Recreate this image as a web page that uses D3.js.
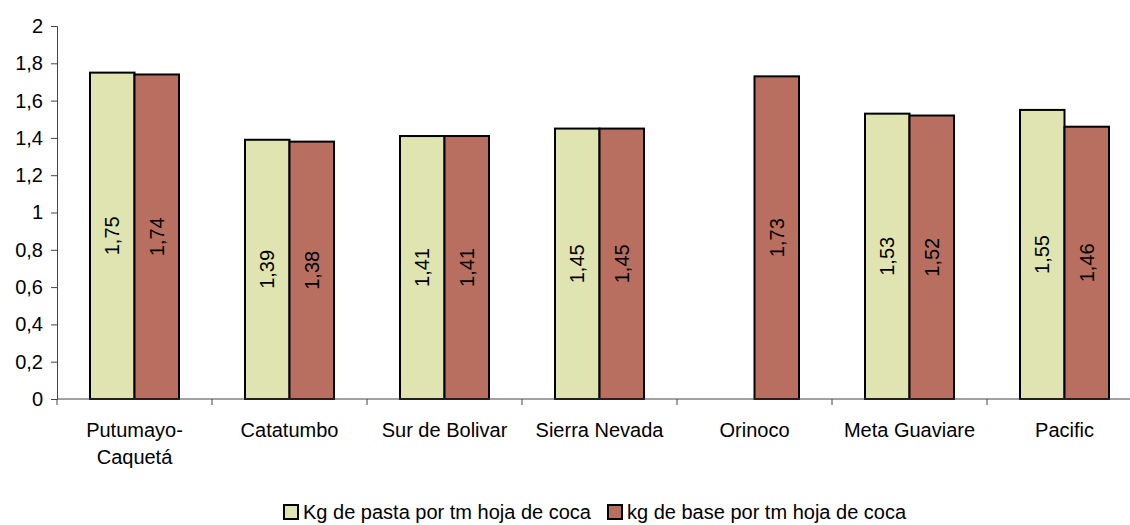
<!DOCTYPE html>
<html>
<head>
<meta charset="utf-8">
<script src="https://cdn.jsdelivr.net/npm/d3@7"></script>
<style>
  html, body { margin: 0; padding: 0; background: #fff; }
  svg { display: block; font-family: "Liberation Sans", Arial, sans-serif; }
</style>
</head>
<body>
<svg id="chart" width="1130" height="525"></svg>
<script>
// Yield per region: kg of product per tonne of coca leaf
const regions = ["Putumayo-\nCaquetá", "Catatumbo", "Sur de Bolivar", "Sierra Nevada", "Orinoco", "Meta Guaviare", "Pacific"];
const pastaValues = [1.75, 1.39, 1.41, 1.45, null, 1.53, 1.55];
const baseValues = [1.74, 1.38, 1.41, 1.45, 1.73, 1.52, 1.46];
const seriesNames = ["Kg de pasta por tm hoja de coca", "kg de base por tm hoja de coca"];
const seriesColors = ["#dfe4b0", "#b86f60"];
const yTicks = [0, 0.2, 0.4, 0.6, 0.8, 1, 1.2, 1.4, 1.6, 1.8, 2];

(function draw() {
  const svg = d3.select("#chart");
  const fmt = v => String(v).replace(".", ",");
  const fontSize = 20;

  const plotLeft = 57, plotRight = 1142, plotTop = 26, plotBottom = 399;

  const x = d3.scaleBand().domain(regions).range([plotLeft, plotRight]).paddingInner(0).paddingOuter(0);
  const groupW = 89;
  const xSub = d3.scaleBand().domain([0, 1]).range([0, groupW]);
  const y = d3.scaleLinear().domain([0, 2]).range([plotBottom, plotTop]);

  // y axis
  const yAxis = svg.append("g")
    .attr("transform", `translate(${plotLeft},0)`)
    .call(d3.axisLeft(y).tickValues(yTicks).tickSize(6).tickPadding(8).tickFormat(fmt));
  yAxis.selectAll("text").attr("font-size", fontSize).attr("fill", "#000").attr("font-family", "Liberation Sans, Arial, sans-serif");
  yAxis.selectAll("line, path").attr("stroke", "#444").attr("stroke-width", 1);

  // bars
  const rows = regions.map((r, i) => ({ region: r, vals: [pastaValues[i], baseValues[i]] }));
  const groups = svg.append("g").selectAll("g").data(rows).join("g")
    .attr("transform", d => `translate(${x(d.region) + (x.bandwidth() - groupW) / 2},0)`);

  const cells = groups.selectAll("g").data(d => d.vals.map((v, k) => ({ v, k })).filter(e => e.v != null)).join("g");
  cells.append("rect")
    .attr("x", e => xSub(e.k))
    .attr("width", xSub.bandwidth())
    .attr("y", e => y(e.v))
    .attr("height", e => y(0) - y(e.v))
    .attr("fill", e => seriesColors[e.k])
    .attr("stroke", "#000")
    .attr("stroke-width", 2);
  cells.append("text")
    .attr("transform", e => `translate(${xSub(e.k) + xSub.bandwidth() / 2},${(y(e.v) + y(0)) / 2}) rotate(-90)`)
    .attr("text-anchor", "middle")
    .attr("dy", "0.35em")
    .attr("font-size", fontSize)
    .attr("fill", "#000")
    .text(e => fmt(e.v));

  // x axis
  const xAxis = svg.append("g")
    .attr("transform", `translate(0,${plotBottom})`);
  xAxis.append("line").attr("x1", plotLeft).attr("x2", plotRight).attr("stroke", "#444");
  const edges = d3.range(regions.length + 1).map(i => plotLeft + i * x.step());
  xAxis.selectAll("line.tick").data(edges).join("line").attr("class", "tick")
    .attr("x1", d => d).attr("x2", d => d).attr("y1", 0).attr("y2", 6).attr("stroke", "#444");
  const lbl = xAxis.selectAll("text").data(regions).join("text")
    .attr("x", d => x(d) + x.bandwidth() / 2)
    .attr("y", 38)
    .attr("text-anchor", "middle")
    .attr("font-size", fontSize)
    .attr("fill", "#000");
  lbl.each(function(d) {
    const parts = d.split("\n");
    d3.select(this).selectAll("tspan").data(parts).join("tspan")
      .attr("x", x(d) + x.bandwidth() / 2)
      .attr("dy", (p, i) => i === 0 ? 0 : 27)
      .text(p => p);
  });

  // legend
  const legend = svg.append("g").attr("transform", "translate(284,505)");
  const legX = [0, 324];
  seriesNames.forEach((name, i) => {
    const g = legend.append("g").attr("transform", `translate(${legX[i]},0)`);
    g.append("rect").attr("width", 14).attr("height", 14).attr("fill", seriesColors[i]).attr("stroke", "#000").attr("stroke-width", 2);
    g.append("text").attr("x", 19).attr("y", 14).attr("font-size", fontSize).attr("fill", "#000").text(name);
  });
})();
</script>
</body>
</html>
